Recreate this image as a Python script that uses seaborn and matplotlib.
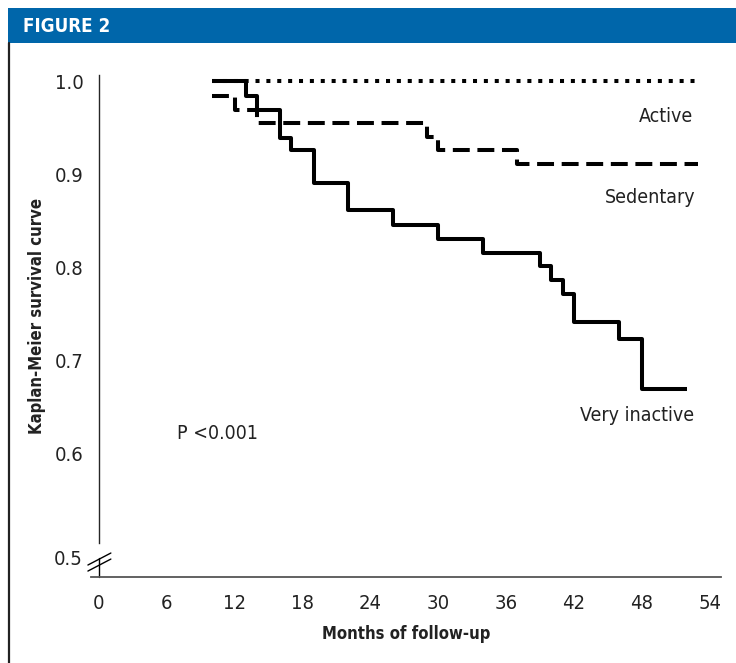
import numpy as np
import pandas as pd
import seaborn as sns
import matplotlib.pyplot as plt
from matplotlib.patches import Rectangle
from matplotlib.lines import Line2D

# survival step data (months, KM estimate)
months_active = [10, 53]
surv_active = [1.0, 1.0]

months_sedentary = [10, 12, 14, 29, 30, 37, 53]
surv_sedentary = [0.984, 0.969, 0.955, 0.940, 0.926, 0.911, 0.911]

months_inactive = [10, 13, 14, 16, 17, 19, 22, 26, 30, 34, 39, 40, 41, 42, 46, 48, 52]
surv_inactive = [1.0, 0.984, 0.969, 0.939, 0.926, 0.891, 0.861, 0.845, 0.830, 0.815,
                 0.801, 0.786, 0.771, 0.741, 0.723, 0.669, 0.669]

x_ticks = [0, 6, 12, 18, 24, 30, 36, 42, 48, 54]
y_ticks = [0.6, 0.7, 0.8, 0.9, 1.0]

df = pd.concat([
    pd.DataFrame({'month': months_active, 'surv': surv_active, 'group': 'Active'}),
    pd.DataFrame({'month': months_sedentary, 'surv': surv_sedentary, 'group': 'Sedentary'}),
    pd.DataFrame({'month': months_inactive, 'surv': surv_inactive, 'group': 'Very inactive'}),
])

sns.set_style('white')
plt.rcParams['font.family'] = ['DejaVu Sans']
plt.rcParams['font.stretch'] = 'condensed'

fs_tick = 14.5
fs_lab = 12
fs_ann = 14
tc = '#222222'

fig = plt.figure(figsize=(7.36, 6.63), dpi=100)
ax = fig.add_axes([0.1236, 0.1297, 0.856, 0.757])

lw = 2.9
sns.lineplot(data=df, x='month', y='surv', style='group', color='black',
             dashes={'Active': (1, 1.7), 'Sedentary': (4.2, 1.9), 'Very inactive': ''},
             drawstyle='steps-post', estimator=None, linewidth=lw, legend=False, ax=ax)
for l in ax.lines:
    l.set_dash_capstyle('butt')
    l.set_solid_capstyle('butt')

ax.set_xlim(-0.7, 55)
ax.set_ylim(0.4667, 1.0065)
ax.spines['left'].set_position(('data', 0))
ax.spines['left'].set_bounds(0.503, 1.0065)
ax.spines['left'].set_linewidth(1.0)
ax.spines['bottom'].set_color('#555555')
ax.spines['bottom'].set_linewidth(1.3)
for s in ['top', 'right']:
    ax.spines[s].set_visible(False)

ax.set_xticks(x_ticks)
ax.set_xticklabels([str(t) for t in x_ticks])
ax.set_yticks([0.503] + y_ticks)
ax.set_yticklabels([''] + ['%.1f' % t for t in y_ticks])
ax.tick_params(axis='both', direction='out', length=5, width=1, color='black',
               labelsize=fs_tick, labelcolor=tc, pad=6)
ax.tick_params(axis='x', pad=7)

# lower piece of the broken y axis + break marks
ax.plot([0, 0], [0.4667, 0.487], color='black', lw=1.0, clip_on=False)
ax.plot([-0.97, 1.06], [0.4796, 0.4925], color='black', lw=1.0, clip_on=False)
ax.plot([-0.97, 1.06], [0.4731, 0.4860], color='black', lw=1.0, clip_on=False)
ax.text(-1.45, 0.485, '0.5', ha='right', va='center', fontsize=fs_tick, color=tc)

ax.set_xlabel('Months of follow-up', fontsize=fs_lab, fontweight='bold', color=tc)
ax.xaxis.set_label_coords(0.5, -0.095)
ax.set_ylabel('Kaplan-Meier survival curve', fontsize=fs_lab, fontweight='bold', color=tc)
ax.yaxis.set_label_coords(-0.072, 0.52)

ax.text(50.1, 0.962, 'Active', ha='center', va='center', fontsize=fs_ann, color=tc)
ax.text(48.7, 0.875, 'Sedentary', ha='center', va='center', fontsize=fs_ann, color=tc)
ax.text(47.6, 0.640, 'Very inactive', ha='center', va='center', fontsize=fs_ann, color=tc)
ax.text(10.5, 0.621, 'P <0.001', ha='center', va='center', fontsize=fs_ann, color=tc)

# header band and frame line
fig.patches.append(Rectangle((8 / 736, 1 - 43 / 663), 1, 35 / 663, transform=fig.transFigure,
                             facecolor='#0066AA', edgecolor='none', zorder=0))
fig.lines.append(Line2D([9 / 736, 9 / 736], [0, 1 - 43 / 663], transform=fig.transFigure,
                        color='#222222', lw=1.6))
fig.text(23 / 736, 1 - 26 / 663, 'FIGURE 2', color='white', fontsize=13.5, fontweight='bold',
         ha='left', va='center')

fig.savefig('out.png', dpi=100)
